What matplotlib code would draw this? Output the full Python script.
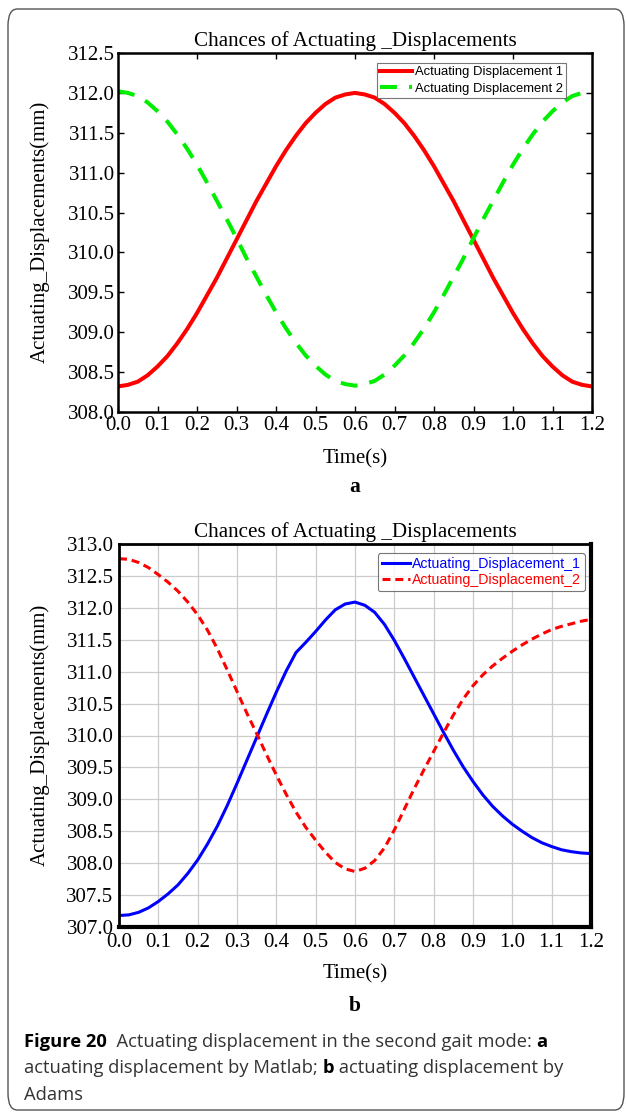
import matplotlib
matplotlib.use("Agg")
import matplotlib.pyplot as plt
from matplotlib.patches import FancyBboxPatch

# ---- data ----
t = [0.0, 0.025, 0.05, 0.075, 0.1, 0.125, 0.15, 0.175, 0.2, 0.225, 0.25, 0.275, 0.3,
     0.325, 0.35, 0.375, 0.4, 0.425, 0.45, 0.475, 0.5, 0.525, 0.55, 0.575, 0.6,
     0.625, 0.65, 0.675, 0.7, 0.725, 0.75, 0.775, 0.8, 0.825, 0.85, 0.875, 0.9,
     0.925, 0.95, 0.975, 1.0, 1.025, 1.05, 1.075, 1.1, 1.125, 1.15, 1.175, 1.2]

# (a) Matlab
matlab_disp1 = [308.32, 308.34, 308.38, 308.46, 308.57, 308.70, 308.86, 309.04, 309.24,
                309.46, 309.68, 309.92, 310.16, 310.40, 310.64, 310.86, 311.08, 311.28,
                311.46, 311.62, 311.75, 311.86, 311.94, 311.98, 312.00, 311.98, 311.94,
                311.86, 311.75, 311.62, 311.46, 311.28, 311.08, 310.86, 310.64, 310.40,
                310.16, 309.92, 309.68, 309.46, 309.24, 309.04, 308.86, 308.70, 308.57,
                308.46, 308.38, 308.34, 308.32]
matlab_disp2 = [312.02, 312.00, 311.96, 311.88, 311.77, 311.64, 311.48, 311.30, 311.10,
                310.88, 310.65, 310.42, 310.18, 309.93, 309.70, 309.47, 309.25, 309.05,
                308.87, 308.71, 308.58, 308.47, 308.39, 308.35, 308.33, 308.35, 308.39,
                308.47, 308.58, 308.71, 308.87, 309.05, 309.25, 309.47, 309.70, 309.93,
                310.18, 310.42, 310.65, 310.88, 311.10, 311.30, 311.48, 311.64, 311.77,
                311.88, 311.96, 312.00, 312.02]

# (b) Adams
adams_disp1 = [307.18, 307.19, 307.23, 307.30, 307.40, 307.52, 307.66, 307.84, 308.05,
               308.30, 308.58, 308.90, 309.25, 309.61, 309.97, 310.33, 310.68, 311.01,
               311.30, 311.46, 311.63, 311.81, 311.97, 312.06, 312.09, 312.04, 311.93,
               311.74, 311.49, 311.21, 310.92, 310.63, 310.34, 310.05, 309.77, 309.51,
               309.28, 309.07, 308.89, 308.74, 308.61, 308.50, 308.40, 308.32, 308.26,
               308.21, 308.18, 308.16, 308.15]
adams_disp2 = [312.77, 312.76, 312.71, 312.63, 312.52, 312.40, 312.26, 312.09, 311.89,
               311.65, 311.36, 311.03, 310.69, 310.35, 310.03, 309.70, 309.38, 309.08,
               308.80, 308.56, 308.36, 308.17, 308.01, 307.91, 307.87, 307.92, 308.04,
               308.24, 308.52, 308.84, 309.16, 309.46, 309.75, 310.04, 310.32, 310.57,
               310.78, 310.95, 311.09, 311.21, 311.32, 311.42, 311.51, 311.59, 311.66,
               311.71, 311.75, 311.79, 311.82]

x_ticks = [0.0, 0.1, 0.2, 0.3, 0.4, 0.5, 0.6, 0.7, 0.8, 0.9, 1.0, 1.1, 1.2]
x_labels = ["0.0", "0.1", "0.2", "0.3", "0.4", "0.5", "0.6", "0.7", "0.8", "0.9", "1.0", "1.1", "1.2"]
a_yticks = [308.0, 308.5, 309.0, 309.5, 310.0, 310.5, 311.0, 311.5, 312.0, 312.5]
b_yticks = [307.0, 307.5, 308.0, 308.5, 309.0, 309.5, 310.0, 310.5, 311.0, 311.5,
            312.0, 312.5, 313.0]

W, H = 626, 1115
SERIF = "Liberation Serif"
SANS = "Liberation Sans"

fig = plt.figure(figsize=(W / 100, H / 100), dpi=100)


def px_axes(l, t_, r, b):
    return fig.add_axes([l / W, 1 - b / H, (r - l) / W, (b - t_) / H])


def style_ticks(ax, yticks):
    ax.set_xlim(0, 1.2)
    ax.set_xticks(x_ticks)
    ax.set_xticklabels(x_labels, fontfamily=SERIF, fontsize=15)
    ax.set_yticks(yticks)
    ax.set_yticklabels(["%.1f" % v for v in yticks], fontfamily=SERIF, fontsize=15)
    ax.set_ylim(yticks[0], yticks[-1])


# ---------------- (a) ----------------
ax1 = px_axes(118, 53, 592, 412)
ax1.plot(t, matlab_disp1, color="#ff0000", lw=2.9, label="Actuating Displacement 1")
ax1.plot(t, matlab_disp2, color="#00ee00", lw=2.9, dashes=(4.2, 3.0),
         label="Actuating Displacement 2")
style_ticks(ax1, a_yticks)
ax1.tick_params(axis="x", direction="in", length=4, width=1, pad=3, bottom=True)
ax1.tick_params(axis="y", direction="in", length=4, width=1, pad=2, left=True, right=True)
top = ax1.secondary_xaxis("top")
top.set_xticks([0.2, 0.4, 0.6, 0.8, 1.0])
top.tick_params(direction="in", length=4, width=1, labeltop=False)
top.spines["top"].set_visible(False)
for s in ax1.spines.values():
    s.set_linewidth(1.8)
    s.set_color("black")
ax1.set_title("Chances of Actuating _Displacements", fontfamily=SERIF, fontsize=15.2, pad=5)
leg1 = ax1.legend(loc="upper right", bbox_to_anchor=(0.945, 0.972), borderaxespad=0,
                  prop={"family": SANS, "size": 9.4}, fancybox=False, frameon=True,
                  handlelength=2.45, handletextpad=0.2, borderpad=0.25, labelspacing=0.3)
leg1.get_frame().set_edgecolor("#555555")
leg1.get_frame().set_linewidth(0.8)

fig.text(40 / W, 1 - 232 / H, "Actuating_Displacements(mm)", rotation=90,
         ha="center", va="center", fontfamily=SERIF, fontsize=15)
fig.text(355 / W, 1 - 459 / H, "Time(s)", ha="center", va="center",
         fontfamily=SERIF, fontsize=15)
fig.text(355 / W, 1 - 487 / H, "a", ha="center", va="center",
         fontfamily=SERIF, fontsize=15.5, fontweight="bold")

# ---------------- (b) ----------------
ax2 = px_axes(119, 544, 591, 927)
ax2.plot(t, adams_disp1, color="#0000ff", lw=2.2, label="Actuating_Displacement_1")
ax2.plot(t, adams_disp2, color="#ff0000", lw=2.2, dashes=(2.6, 1.6),
         label="Actuating_Displacement_2")
style_ticks(ax2, b_yticks)
ax2.tick_params(length=0, pad=4)
ax2.grid(True, color="#cccccc", lw=0.9)
ax2.set_axisbelow(True)
for name, s in ax2.spines.items():
    s.set_color("black")
    s.set_linewidth(3.0 if name in ("right", "bottom") else 2.0)
ax2.set_title("Chances of Actuating _Displacements", fontfamily=SERIF, fontsize=15.2, pad=5)
leg2 = ax2.legend(loc="upper right", bbox_to_anchor=(0.987, 0.977), borderaxespad=0,
                  prop={"family": SANS, "size": 10.2}, fancybox=True, frameon=True,
                  handlelength=2.0, handletextpad=0.1, borderpad=0.3, labelspacing=0.15)
leg2.get_frame().set_edgecolor("#555555")
leg2.get_frame().set_linewidth(0.8)
for txt, col in zip(leg2.get_texts(), ["#0000ff", "#ff0000"]):
    txt.set_color(col)

fig.text(40 / W, 1 - 735 / H, "Actuating_Displacements(mm)", rotation=90,
         ha="center", va="center", fontfamily=SERIF, fontsize=15)
fig.text(355 / W, 1 - 974 / H, "Time(s)", ha="center", va="center",
         fontfamily=SERIF, fontsize=15)
fig.text(355 / W, 1 - 1006 / H, "b", ha="center", va="center",
         fontfamily=SERIF, fontsize=15.5, fontweight="bold")

# ---------------- caption ----------------
renderer = fig.canvas.get_renderer()
caption = [
    (1042, [("Figure 20", "bold", "black"), ("  Actuating displacement in the second gait mode: ", "normal", "#333333"),
            ("a", "bold", "black")]),
    (1068, [("actuating displacement by Matlab; ", "normal", "#333333"), ("b", "bold", "black"),
            (" actuating displacement by", "normal", "#333333")]),
    (1095, [("Adams", "normal", "#333333")]),
]
for y, pieces in caption:
    x = 24
    for s, w, c in pieces:
        tx = fig.text(x / W, 1 - y / H, s, ha="left", va="center", fontfamily="Open Sans",
                      fontsize=13.2, fontweight=w, color=c)
        x += tx.get_window_extent(renderer).width

# rounded outer frame
frame = FancyBboxPatch((8 / W, 1 - 1110 / H), (W - 2) / W - 8 / W, (1110 - 9) / H,
                       boxstyle="round,pad=0,rounding_size=0.015", transform=fig.transFigure,
                       facecolor="none", edgecolor="#555555", lw=1.0)
fig.patches.append(frame)

fig.savefig("out.png", dpi=100)
